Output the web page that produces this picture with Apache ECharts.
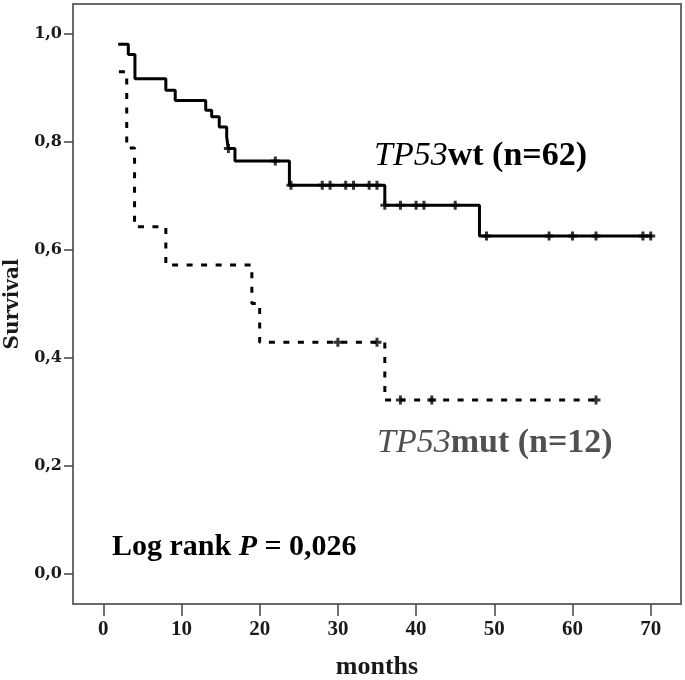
<!DOCTYPE html>
<html>
<head>
<meta charset="utf-8">
<script src="https://cdn.jsdelivr.net/npm/echarts@6/dist/echarts.min.js"></script>
<style>
html,body{margin:0;padding:0;background:#fff;}
#chart{width:685px;height:680px;}
</style>
</head>
<body>
<div id="chart"></div>
<script>
// Kaplan-Meier step points: time (months) at which survival drops to the value
const wtTime = [2.1, 3.2, 4.05, 8.0, 9.2, 13.1, 13.86, 14.83, 15.78, 15.98, 16.84, 23.8, 36.0, 48.1, 70];
const wtSurv = [0.981, 0.962, 0.917, 0.896, 0.877, 0.859, 0.847, 0.828, 0.810, 0.788, 0.765, 0.720, 0.683, 0.626, 0.626];
const wtCensorTime = [16, 22, 24, 28, 29, 31, 32, 34, 35, 36, 38, 40, 41, 45, 49, 57, 60, 63, 69, 70];
const wtCensorSurv = [0.788, 0.765, 0.720, 0.720, 0.720, 0.720, 0.720, 0.720, 0.720, 0.683, 0.683, 0.683, 0.683, 0.683, 0.626, 0.626, 0.626, 0.626, 0.626, 0.626];

const mutTime = [2.0, 3.0, 4.0, 8.0, 19.0, 20.0, 36.0, 63.0];
const mutSurv = [0.930, 0.789, 0.643, 0.572, 0.501, 0.429, 0.322, 0.322];
const mutCensorTime = [30, 35, 38, 42, 63];
const mutCensorSurv = [0.429, 0.429, 0.322, 0.322, 0.322];

const xTicks = [0, 10, 20, 30, 40, 50, 60, 70];
const xTickLabels = ['0', '10', '20', '30', '40', '50', '60', '70'];
const yTicks = [0, 0.2, 0.4, 0.6, 0.8, 1.0];
const yTickLabels = ['0,0', '0,2', '0,4', '0,6', '0,8', '1,0'];

const zip = (a, b) => a.map((v, i) => [v, b[i]]);
const plus = 'path://M3,0h3v3h3v3h-3v3h-3v-3h-3v-3h3z';
const serif = 'Liberation Serif';

const chart = echarts.init(document.getElementById('chart'), null, {renderer: 'canvas'});
chart.setOption({
  animation: false,
  backgroundColor: '#ffffff',
  grid: {
    left: 73, right: 4, top: 4, bottom: 76,
    outerBoundsMode: 'none', containLabel: false,
    show: true, borderColor: '#6a6a6a', borderWidth: 2, backgroundColor: 'transparent'
  },
  xAxis: {
    type: 'value', min: -3.87, max: 73.87,
    axisLine: {show: false, onZero: false},
    splitLine: {show: false},
    axisTick: {show: true, customValues: xTicks, length: 12, lineStyle: {color: '#444', width: 1.5}},
    axisLabel: {
      customValues: xTicks, margin: 15,
      formatter: v => xTickLabels[xTicks.findIndex(t => Math.abs(t - v) < 1e-6)],
      fontFamily: serif, fontWeight: 'bold', fontSize: 21, color: '#1a1a1a'
    },
    name: 'months', nameLocation: 'middle', nameGap: 50,
    nameTextStyle: {fontFamily: serif, fontWeight: 'bold', fontSize: 26, color: '#1a1a1a'}
  },
  yAxis: {
    type: 'value', min: -0.0556, max: 1.0556,
    axisLine: {show: false, onZero: false},
    splitLine: {show: false},
    axisTick: {show: true, customValues: yTicks, length: 9, lineStyle: {color: '#444', width: 1.5}},
    axisLabel: {
      customValues: yTicks, margin: 11,
      formatter: v => yTickLabels[yTicks.findIndex(t => Math.abs(t - v) < 1e-6)],
      fontFamily: 'DejaVu Serif', fontWeight: 'bold', fontSize: 16, color: '#1a1a1a'
    },
    name: 'Survival', nameLocation: 'middle', nameGap: 46,
    nameTextStyle: {fontFamily: 'DejaVu Serif', fontWeight: 'bold', fontSize: 20, color: '#1a1a1a'}
  },
  series: [
    {
      name: 'TP53wt', type: 'line', step: 'end', data: zip(wtTime, wtSurv),
      symbol: 'none', lineStyle: {color: '#000', width: 3, cap: 'square'}, z: 3
    },
    {
      name: 'TP53mut', type: 'line', step: 'end', data: zip(mutTime, mutSurv),
      symbol: 'none', lineStyle: {color: '#000', width: 3, type: [6, 8.5]}, z: 3
    },
    {
      name: 'TP53wt censored', type: 'scatter', data: zip(wtCensorTime, wtCensorSurv),
      symbol: plus, symbolSize: 9, itemStyle: {color: '#000'}, z: 4
    },
    {
      name: 'TP53mut censored', type: 'scatter', data: zip(mutCensorTime, mutCensorSurv),
      symbol: plus, symbolSize: 9, itemStyle: {color: '#000'}, z: 4
    }
  ],
  graphic: [
    {
      type: 'text', x: 374, y: 156, z: 10,
      style: {
        text: '{i|TP53}{b|wt (n=62)}', align: 'left', verticalAlign: 'middle',
        rich: {
          i: {fontFamily: serif, fontStyle: 'italic', fontSize: 34, fill: '#000'},
          b: {fontFamily: serif, fontWeight: 'bold', fontSize: 34, fill: '#000'}
        }
      }
    },
    {
      type: 'text', x: 377, y: 443, z: 10,
      style: {
        text: '{i|TP53}{b|mut (n=12)}', align: 'left', verticalAlign: 'middle',
        rich: {
          i: {fontFamily: serif, fontStyle: 'italic', fontSize: 34, fill: '#505050'},
          b: {fontFamily: serif, fontWeight: 'bold', fontSize: 34, fill: '#505050'}
        }
      }
    },
    {
      type: 'text', x: 112, y: 547, z: 10,
      style: {
        text: '{b|Log rank }{i|P}{b| = 0,026}', align: 'left', verticalAlign: 'middle',
        rich: {
          b: {fontFamily: serif, fontWeight: 'bold', fontSize: 30, fill: '#000'},
          i: {fontFamily: serif, fontWeight: 'bold', fontStyle: 'italic', fontSize: 30, fill: '#000'}
        }
      }
    }
  ]
});
</script>
</body>
</html>
